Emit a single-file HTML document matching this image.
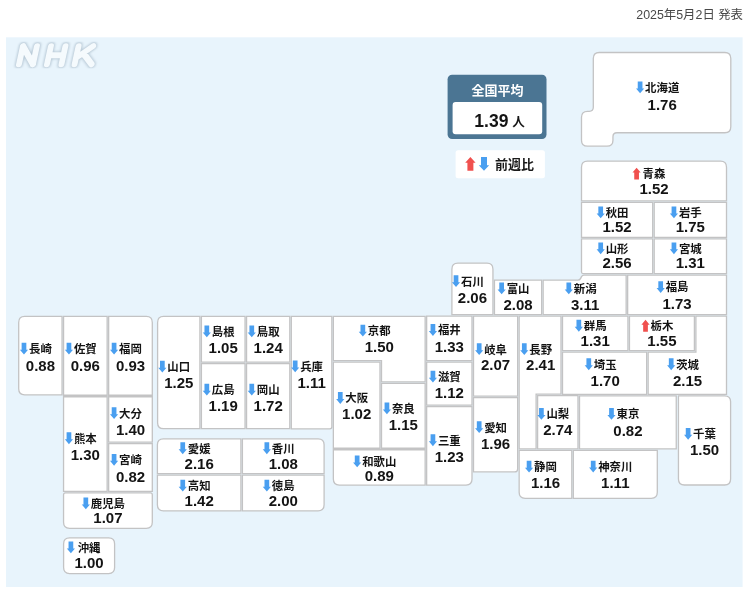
<!DOCTYPE html>
<html lang="ja">
<head>
<meta charset="utf-8">
<title>全国平均 1.39人 - 都道府県別 前週比</title>
<style>
html,body{margin:0;padding:0;background:#fff;}
body{width:750px;height:593px;position:relative;overflow:hidden;font-family:"Liberation Sans",sans-serif;}
#map{position:absolute;left:0;top:0;width:750px;height:593px;display:block;filter:blur(0.35px);}
.pf,.hd{position:absolute;color:transparent;font-size:11px;line-height:14px;text-align:center;white-space:nowrap;overflow:hidden;}
.pf span{display:block;font-weight:bold;}
.pf b{display:block;font-size:14px;line-height:15px;}
</style>
</head>
<body>
<svg id="map" width="750" height="593" viewBox="0 0 750 593">
<defs>
<filter id="bl" x="-10%" y="-20%" width="120%" height="140%"><feGaussianBlur stdDeviation="0.85"/></filter>
</defs>
<rect x="6" y="37.3" width="736.6" height="549.7" fill="#e8f4fc"/>
<g transform="translate(19.0 64.3) skewX(-12.2)" fill="none" stroke-linecap="round" stroke-linejoin="round"><path d="M0.0 0V-18.2M0.0 -18.2L14.0 0M14.0 0V-18.2M28.0 0V-18.2M42.5 0V-18.2M28.0 -9.1H42.5M55.6 0V-18.2M56.6 -7.0L70.2 -18.2M61.9 -11.2L72.6 0" stroke="#a6b8c7" stroke-opacity=".72" stroke-width="7.9" filter="url(#bl)"/><path d="M0.0 0V-18.2M0.0 -18.2L14.0 0M14.0 0V-18.2M28.0 0V-18.2M42.5 0V-18.2M28.0 -9.1H42.5M55.6 0V-18.2M56.6 -7.0L70.2 -18.2M61.9 -11.2L72.6 0" stroke="#f5fafd" stroke-width="5.9"/></g>
<text x="743" y="18.8" text-anchor="end" font-size="12.4" fill="#484848" font-family="'Liberation Sans','Noto Sans CJK JP',sans-serif">2025年5月2日 発表</text>
<g fill="#fff" stroke="#c3c3c4" stroke-width="1.3">
<path d="M593.30 58.50Q593.30 52.50 599.30 52.50L724.80 52.50Q730.80 52.50 730.80 58.50L730.80 126.75Q730.80 132.75 724.80 132.75L616.95 132.75Q612.95 132.75 612.95 136.75L612.95 140.15Q612.95 146.15 606.95 146.15L587.50 146.15Q581.50 146.15 581.50 140.15L581.50 117.30Q581.50 111.30 587.50 111.30L589.30 111.30Q593.30 111.30 593.30 107.30Z"/>
<path d="M581.50 167.15Q581.50 161.15 587.50 161.15L720.50 161.15Q726.50 161.15 726.50 167.15L726.50 200.80L581.50 200.80Z"/>
<path d="M581.50 202.30L652.70 202.30L652.70 237.45L581.50 237.45Z"/>
<path d="M654.20 202.30L726.50 202.30L726.50 237.45L654.20 237.45Z"/>
<path d="M581.50 238.95L652.70 238.95L652.70 273.55L583.00 273.55Q581.50 273.55 581.50 272.05Z"/>
<path d="M654.20 238.95L726.50 238.95L726.50 273.55L654.20 273.55Z"/>
<path d="M627.65 275.05L726.50 275.05L726.50 314.65L627.65 314.65Z"/>
<path d="M562.50 316.15L627.95 316.15L627.95 350.65L562.50 350.65Z"/>
<path d="M629.45 316.15L694.40 316.15L694.40 350.65L629.45 350.65Z"/>
<path d="M695.90 316.15L726.50 316.15L726.50 394.30L648.15 394.30L648.15 352.15L695.90 352.15Z"/>
<path d="M562.50 352.15L646.65 352.15L646.65 394.30L562.50 394.30Z"/>
<path d="M579.50 395.80L676.25 395.80L676.25 448.85L579.50 448.85Z"/>
<path d="M678.45 395.80L724.60 395.80Q730.60 395.80 730.60 401.80L730.60 479.00Q730.60 485.00 724.60 485.00L684.45 485.00Q678.45 485.00 678.45 479.00Z"/>
<path d="M573.30 450.35L657.30 450.35L657.30 492.30Q657.30 498.30 651.30 498.30L573.30 498.30Z"/>
<path d="M543.15 280.20L577.80 280.20Q579.80 280.20 580.64 278.39L581.36 276.86Q582.20 275.05 584.20 275.05L626.15 275.05L626.15 314.65L543.15 314.65Z"/>
<path d="M494.45 280.20L541.65 280.20L541.65 314.65L494.45 314.65Z"/>
<path d="M451.90 269.20Q451.90 263.20 457.90 263.20L486.95 263.20Q492.95 263.20 492.95 269.20L492.95 314.65L451.90 314.65Z"/>
<path d="M426.65 316.15L472.00 316.15L472.00 360.65L426.65 360.65Z"/>
<path d="M473.50 316.15L517.65 316.15L517.65 396.05L473.50 396.05Z"/>
<path d="M519.15 316.15L561.00 316.15L561.00 394.20L536.10 394.20L536.10 448.95L519.15 448.95Z"/>
<path d="M537.60 395.70L578.00 395.70L578.00 448.95L537.60 448.95Z"/>
<path d="M519.15 450.45L571.80 450.45L571.80 498.30L525.15 498.30Q519.15 498.30 519.15 492.30Z"/>
<path d="M473.50 397.55L517.65 397.55L517.65 468.90Q517.65 471.90 514.65 471.90L473.50 471.90Z"/>
<path d="M333.35 316.40L425.15 316.40L425.15 381.85L381.50 381.85L381.50 360.55L333.35 360.55Z"/>
<path d="M333.35 362.05L380.00 362.05L380.00 448.25L333.35 448.25Z"/>
<path d="M381.50 383.35L425.15 383.35L425.15 448.25L381.50 448.25Z"/>
<path d="M333.35 449.75L425.15 449.75L425.15 485.10L339.35 485.10Q333.35 485.10 333.35 479.10Z"/>
<path d="M426.65 406.55L472.00 406.55L472.00 479.10Q472.00 485.10 466.00 485.10L426.65 485.10Z"/>
<path d="M426.65 362.15L472.00 362.15L472.00 405.05L426.65 405.05Z"/>
<path d="M291.30 316.40L331.85 316.40L331.85 426.85Q331.85 428.85 329.85 428.85L291.30 428.85Z"/>
<path d="M157.60 322.40Q157.60 316.40 163.60 316.40L199.90 316.40L199.90 428.70L163.60 428.70Q157.60 428.70 157.60 422.70Z"/>
<path d="M201.40 316.40L245.05 316.40L245.05 362.05L201.40 362.05Z"/>
<path d="M246.55 316.40L289.80 316.40L289.80 362.05L246.55 362.05Z"/>
<path d="M201.40 363.55L245.05 363.55L245.05 428.70L201.40 428.70Z"/>
<path d="M246.55 363.55L289.80 363.55L289.80 428.70L246.55 428.70Z"/>
<path d="M157.40 444.80Q157.40 438.80 163.40 438.80L240.90 438.80L240.90 473.65L157.40 473.65Z"/>
<path d="M242.40 438.80L318.10 438.80Q324.10 438.80 324.10 444.80L324.10 473.65L242.40 473.65Z"/>
<path d="M157.40 475.15L240.90 475.15L240.90 510.80L163.40 510.80Q157.40 510.80 157.40 504.80Z"/>
<path d="M242.40 475.15L324.10 475.15L324.10 504.80Q324.10 510.80 318.10 510.80L242.40 510.80Z"/>
<path d="M18.70 322.40Q18.70 316.40 24.70 316.40L62.05 316.40L62.05 394.80L24.70 394.80Q18.70 394.80 18.70 388.80Z"/>
<path d="M63.55 316.40L107.15 316.40L107.15 395.25L63.55 395.25Z"/>
<path d="M108.65 316.40L146.30 316.40Q152.30 316.40 152.30 322.40L152.30 395.25L108.65 395.25Z"/>
<path d="M63.55 396.75L107.15 396.75L107.15 491.30L63.55 491.30Z"/>
<path d="M108.65 396.75L152.30 396.75L152.30 442.10L108.65 442.10Z"/>
<path d="M108.65 443.60L152.30 443.60L152.30 491.30L108.65 491.30Z"/>
<path d="M63.55 494.80Q63.55 492.80 65.55 492.80L150.30 492.80Q152.30 492.80 152.30 494.80L152.30 522.30Q152.30 528.30 146.30 528.30L69.55 528.30Q63.55 528.30 63.55 522.30Z"/>
<path d="M63.60 543.90Q63.60 537.90 69.60 537.90L108.60 537.90Q114.60 537.90 114.60 543.90L114.60 567.60Q114.60 573.60 108.60 573.60L69.60 573.60Q63.60 573.60 63.60 567.60Z"/>
</g>
<rect x="447.6" y="74.8" width="98.9" height="64.2" rx="4.5" fill="#4b7593"/>
<rect x="452.6" y="102.0" width="89.6" height="32.2" rx="3" fill="#fff"/>
<text x="471.6" y="95.4" font-size="13" font-weight="bold" fill="#fff" font-family="'Liberation Sans','Noto Sans CJK JP',sans-serif">全国平均</text>
<text x="491.4" y="126.8" text-anchor="middle" font-size="17.5" font-weight="bold" fill="#141414" font-family="'Liberation Sans','Noto Sans CJK JP',sans-serif">1.39</text>
<text x="512.2" y="126.3" font-size="12.6" font-weight="bold" fill="#161616" font-family="'Liberation Sans','Noto Sans CJK JP',sans-serif">人</text>
<rect x="455.6" y="150.2" width="89.3" height="28.1" rx="2.5" fill="#fff"/>
<path d="M0 -5.5L4 -1.0H2.3V5.5H-2.3V-1.0H-4Z" fill="#f0504e" transform="translate(470.40 163.90) scale(1.300 1.236)"/>
<path d="M0 -5.5L4 -1.0H2.3V5.5H-2.3V-1.0H-4Z" fill="#4a9ff0" transform="translate(484.00 163.90) scale(1.300 -1.236)"/>
<text x="495" y="168.5" font-size="13" font-weight="bold" fill="#1a1a1a" font-family="'Liberation Sans','Noto Sans CJK JP',sans-serif">前週比</text>
<g fill="#141414" font-size="11.4" font-weight="bold" font-family="'Liberation Sans','Noto Sans CJK JP',sans-serif">
<text x="645.1" y="91.8">北海道</text>
<text x="642.6" y="177.9">青森</text>
<text x="605.7" y="216.8">秋田</text>
<text x="678.95" y="216.8">岩手</text>
<text x="605.7" y="252.7">山形</text>
<text x="678.95" y="252.7">宮城</text>
<text x="665.7" y="291.4">福島</text>
<text x="583.8" y="330.1">群馬</text>
<text x="650.5" y="330.1">栃木</text>
<text x="676.2" y="368.6">茨城</text>
<text x="593.8" y="368.6">埼玉</text>
<text x="616.5" y="418.2">東京</text>
<text x="693.1" y="438.2">千葉</text>
<text x="598.2" y="470.9">神奈川</text>
<text x="573.8" y="292.8">新潟</text>
<text x="506.65" y="292.8">富山</text>
<text x="461.0" y="285.6">石川</text>
<text x="437.9" y="334.4">福井</text>
<text x="484.2" y="353.6">岐阜</text>
<text x="529.3" y="353.6">長野</text>
<text x="546.4" y="418.2">山梨</text>
<text x="534.1" y="471.0">静岡</text>
<text x="484.2" y="431.6">愛知</text>
<text x="367.85" y="335.0">京都</text>
<text x="345.3" y="402.4">大阪</text>
<text x="391.9" y="412.8">奈良</text>
<text x="362.15" y="465.7">和歌山</text>
<text x="437.9" y="444.6">三重</text>
<text x="437.9" y="381.0">滋賀</text>
<text x="300.2" y="370.7">兵庫</text>
<text x="167.35" y="371.0">山口</text>
<text x="211.8" y="335.8">島根</text>
<text x="256.8" y="335.8">鳥取</text>
<text x="211.8" y="394.0">広島</text>
<text x="256.8" y="394.0">岡山</text>
<text x="187.75" y="452.6">愛媛</text>
<text x="271.85" y="452.6">香川</text>
<text x="187.75" y="490.0">高知</text>
<text x="271.85" y="490.0">徳島</text>
<text x="29.0" y="353.0">長崎</text>
<text x="73.95" y="353.0">佐賀</text>
<text x="119.1" y="353.0">福岡</text>
<text x="73.95" y="442.6">熊本</text>
<text x="119.1" y="417.6">大分</text>
<text x="119.1" y="464.2">宮崎</text>
<text x="90.8" y="507.7">鹿児島</text>
<text x="77.7" y="551.8">沖縄</text>
</g>
<g fill="#141414" font-size="15" font-weight="bold" text-anchor="middle" font-family="'Liberation Sans',sans-serif">
<text x="662.2" y="109.55">1.76</text>
<text x="654.0" y="193.6">1.52</text>
<text x="617.1" y="231.55">1.52</text>
<text x="690.35" y="231.55">1.75</text>
<text x="617.1" y="268.15">2.56</text>
<text x="690.35" y="268.15">1.31</text>
<text x="677.1" y="308.9">1.73</text>
<text x="595.2" y="345.65">1.31</text>
<text x="661.9" y="345.65">1.55</text>
<text x="687.6" y="386.2">2.15</text>
<text x="605.2" y="386.2">1.70</text>
<text x="627.9" y="435.55">0.82</text>
<text x="704.5" y="455.45">1.50</text>
<text x="615.3" y="488.4">1.11</text>
<text x="585.2" y="309.75">3.11</text>
<text x="518.05" y="309.6">2.08</text>
<text x="472.4" y="303.25">2.06</text>
<text x="449.3" y="351.75">1.33</text>
<text x="495.6" y="369.85">2.07</text>
<text x="540.7" y="369.85">2.41</text>
<text x="557.8" y="435.45">2.74</text>
<text x="545.5" y="488.4">1.16</text>
<text x="495.6" y="449.1">1.96</text>
<text x="379.25" y="352.05">1.50</text>
<text x="356.7" y="419.45">1.02</text>
<text x="403.3" y="430.15">1.15</text>
<text x="379.25" y="480.55">0.89</text>
<text x="449.3" y="461.8">1.23</text>
<text x="449.3" y="397.85">1.12</text>
<text x="311.6" y="388.05">1.11</text>
<text x="178.75" y="388.45">1.25</text>
<text x="223.2" y="353.27">1.05</text>
<text x="268.2" y="353.27">1.24</text>
<text x="223.2" y="411.05">1.19</text>
<text x="268.2" y="411.05">1.72</text>
<text x="199.15" y="468.85">2.16</text>
<text x="283.25" y="468.85">1.08</text>
<text x="199.15" y="505.65">1.42</text>
<text x="283.25" y="505.65">2.00</text>
<text x="40.4" y="370.65">0.88</text>
<text x="85.35" y="370.65">0.96</text>
<text x="130.5" y="370.65">0.93</text>
<text x="85.35" y="460.25">1.30</text>
<text x="130.5" y="434.85">1.40</text>
<text x="130.5" y="482.25">0.82</text>
<text x="107.9" y="523.25">1.07</text>
<text x="89.1" y="567.7">1.00</text>
</g>
<path d="M0 -5.5L4 -1.0H2.3V5.5H-2.3V-1.0H-4Z" fill="#4a9ff0" transform="translate(640.10 87.40) scale(1.025 -1.073)"/>
<path d="M0 -5.5L4 -1.0H2.3V5.5H-2.3V-1.0H-4Z" fill="#f0504e" transform="translate(636.60 173.55) scale(1.025 1.073)"/>
<path d="M0 -5.5L4 -1.0H2.3V5.5H-2.3V-1.0H-4Z" fill="#4a9ff0" transform="translate(600.70 212.40) scale(1.025 -1.073)"/>
<path d="M0 -5.5L4 -1.0H2.3V5.5H-2.3V-1.0H-4Z" fill="#4a9ff0" transform="translate(673.95 212.40) scale(1.025 -1.073)"/>
<path d="M0 -5.5L4 -1.0H2.3V5.5H-2.3V-1.0H-4Z" fill="#4a9ff0" transform="translate(600.70 248.30) scale(1.025 -1.073)"/>
<path d="M0 -5.5L4 -1.0H2.3V5.5H-2.3V-1.0H-4Z" fill="#4a9ff0" transform="translate(673.95 248.30) scale(1.025 -1.073)"/>
<path d="M0 -5.5L4 -1.0H2.3V5.5H-2.3V-1.0H-4Z" fill="#4a9ff0" transform="translate(660.68 287.05) scale(1.025 -1.073)"/>
<path d="M0 -5.5L4 -1.0H2.3V5.5H-2.3V-1.0H-4Z" fill="#4a9ff0" transform="translate(578.83 325.75) scale(1.025 -1.073)"/>
<path d="M0 -5.5L4 -1.0H2.3V5.5H-2.3V-1.0H-4Z" fill="#f0504e" transform="translate(645.52 325.75) scale(1.025 1.073)"/>
<path d="M0 -5.5L4 -1.0H2.3V5.5H-2.3V-1.0H-4Z" fill="#4a9ff0" transform="translate(671.20 364.25) scale(1.025 -1.073)"/>
<path d="M0 -5.5L4 -1.0H2.3V5.5H-2.3V-1.0H-4Z" fill="#4a9ff0" transform="translate(588.78 364.25) scale(1.025 -1.073)"/>
<path d="M0 -5.5L4 -1.0H2.3V5.5H-2.3V-1.0H-4Z" fill="#4a9ff0" transform="translate(611.48 413.85) scale(1.025 -1.073)"/>
<path d="M0 -5.5L4 -1.0H2.3V5.5H-2.3V-1.0H-4Z" fill="#4a9ff0" transform="translate(688.13 433.80) scale(1.025 -1.073)"/>
<path d="M0 -5.5L4 -1.0H2.3V5.5H-2.3V-1.0H-4Z" fill="#4a9ff0" transform="translate(593.20 466.53) scale(1.025 -1.073)"/>
<path d="M0 -5.5L4 -1.0H2.3V5.5H-2.3V-1.0H-4Z" fill="#4a9ff0" transform="translate(568.80 288.40) scale(1.025 -1.073)"/>
<path d="M0 -5.5L4 -1.0H2.3V5.5H-2.3V-1.0H-4Z" fill="#4a9ff0" transform="translate(501.65 288.40) scale(1.025 -1.073)"/>
<path d="M0 -5.5L4 -1.0H2.3V5.5H-2.3V-1.0H-4Z" fill="#4a9ff0" transform="translate(456.02 281.20) scale(1.025 -1.073)"/>
<path d="M0 -5.5L4 -1.0H2.3V5.5H-2.3V-1.0H-4Z" fill="#4a9ff0" transform="translate(432.93 330.00) scale(1.025 -1.073)"/>
<path d="M0 -5.5L4 -1.0H2.3V5.5H-2.3V-1.0H-4Z" fill="#4a9ff0" transform="translate(479.18 349.20) scale(1.025 -1.073)"/>
<path d="M0 -5.5L4 -1.0H2.3V5.5H-2.3V-1.0H-4Z" fill="#4a9ff0" transform="translate(524.30 349.20) scale(1.025 -1.073)"/>
<path d="M0 -5.5L4 -1.0H2.3V5.5H-2.3V-1.0H-4Z" fill="#4a9ff0" transform="translate(541.40 413.85) scale(1.025 -1.073)"/>
<path d="M0 -5.5L4 -1.0H2.3V5.5H-2.3V-1.0H-4Z" fill="#4a9ff0" transform="translate(529.07 466.57) scale(1.025 -1.073)"/>
<path d="M0 -5.5L4 -1.0H2.3V5.5H-2.3V-1.0H-4Z" fill="#4a9ff0" transform="translate(479.18 427.20) scale(1.025 -1.073)"/>
<path d="M0 -5.5L4 -1.0H2.3V5.5H-2.3V-1.0H-4Z" fill="#4a9ff0" transform="translate(362.85 330.60) scale(1.025 -1.073)"/>
<path d="M0 -5.5L4 -1.0H2.3V5.5H-2.3V-1.0H-4Z" fill="#4a9ff0" transform="translate(340.28 398.00) scale(1.025 -1.073)"/>
<path d="M0 -5.5L4 -1.0H2.3V5.5H-2.3V-1.0H-4Z" fill="#4a9ff0" transform="translate(386.93 408.45) scale(1.025 -1.073)"/>
<path d="M0 -5.5L4 -1.0H2.3V5.5H-2.3V-1.0H-4Z" fill="#4a9ff0" transform="translate(357.15 461.35) scale(1.025 -1.073)"/>
<path d="M0 -5.5L4 -1.0H2.3V5.5H-2.3V-1.0H-4Z" fill="#4a9ff0" transform="translate(432.93 440.25) scale(1.025 -1.073)"/>
<path d="M0 -5.5L4 -1.0H2.3V5.5H-2.3V-1.0H-4Z" fill="#4a9ff0" transform="translate(432.93 376.60) scale(1.025 -1.073)"/>
<path d="M0 -5.5L4 -1.0H2.3V5.5H-2.3V-1.0H-4Z" fill="#4a9ff0" transform="translate(295.18 366.35) scale(1.025 -1.073)"/>
<path d="M0 -5.5L4 -1.0H2.3V5.5H-2.3V-1.0H-4Z" fill="#4a9ff0" transform="translate(162.35 366.60) scale(1.025 -1.073)"/>
<path d="M0 -5.5L4 -1.0H2.3V5.5H-2.3V-1.0H-4Z" fill="#4a9ff0" transform="translate(206.83 331.43) scale(1.025 -1.073)"/>
<path d="M0 -5.5L4 -1.0H2.3V5.5H-2.3V-1.0H-4Z" fill="#4a9ff0" transform="translate(251.78 331.43) scale(1.025 -1.073)"/>
<path d="M0 -5.5L4 -1.0H2.3V5.5H-2.3V-1.0H-4Z" fill="#4a9ff0" transform="translate(206.83 389.60) scale(1.025 -1.073)"/>
<path d="M0 -5.5L4 -1.0H2.3V5.5H-2.3V-1.0H-4Z" fill="#4a9ff0" transform="translate(251.78 389.60) scale(1.025 -1.073)"/>
<path d="M0 -5.5L4 -1.0H2.3V5.5H-2.3V-1.0H-4Z" fill="#4a9ff0" transform="translate(182.75 448.25) scale(1.025 -1.073)"/>
<path d="M0 -5.5L4 -1.0H2.3V5.5H-2.3V-1.0H-4Z" fill="#4a9ff0" transform="translate(266.85 448.25) scale(1.025 -1.073)"/>
<path d="M0 -5.5L4 -1.0H2.3V5.5H-2.3V-1.0H-4Z" fill="#4a9ff0" transform="translate(182.75 485.60) scale(1.025 -1.073)"/>
<path d="M0 -5.5L4 -1.0H2.3V5.5H-2.3V-1.0H-4Z" fill="#4a9ff0" transform="translate(266.85 485.60) scale(1.025 -1.073)"/>
<path d="M0 -5.5L4 -1.0H2.3V5.5H-2.3V-1.0H-4Z" fill="#4a9ff0" transform="translate(23.98 348.60) scale(1.025 -1.073)"/>
<path d="M0 -5.5L4 -1.0H2.3V5.5H-2.3V-1.0H-4Z" fill="#4a9ff0" transform="translate(68.95 348.60) scale(1.025 -1.073)"/>
<path d="M0 -5.5L4 -1.0H2.3V5.5H-2.3V-1.0H-4Z" fill="#4a9ff0" transform="translate(114.08 348.60) scale(1.025 -1.073)"/>
<path d="M0 -5.5L4 -1.0H2.3V5.5H-2.3V-1.0H-4Z" fill="#4a9ff0" transform="translate(68.95 438.25) scale(1.025 -1.073)"/>
<path d="M0 -5.5L4 -1.0H2.3V5.5H-2.3V-1.0H-4Z" fill="#4a9ff0" transform="translate(114.08 413.20) scale(1.025 -1.073)"/>
<path d="M0 -5.5L4 -1.0H2.3V5.5H-2.3V-1.0H-4Z" fill="#4a9ff0" transform="translate(114.08 459.80) scale(1.025 -1.073)"/>
<path d="M0 -5.5L4 -1.0H2.3V5.5H-2.3V-1.0H-4Z" fill="#4a9ff0" transform="translate(85.83 503.35) scale(1.025 -1.073)"/>
<path d="M0 -5.5L4 -1.0H2.3V5.5H-2.3V-1.0H-4Z" fill="#4a9ff0" transform="translate(70.90 547.40) scale(1.025 -1.073)"/>
</svg>
<div class="hd" style="left:630px;top:6px;width:114px;height:16px">2025年5月2日 発表</div>
<div class="hd" style="left:14px;top:42px;width:84px;height:26px">NHK</div>
<div class="hd" style="left:448px;top:75px;width:98px;height:64px"><span>全国平均</span> <b>1.39人</b></div>
<div class="hd" style="left:456px;top:150px;width:89px;height:28px">↑↓ 前週比</div>
<div class="pf" style="left:581px;top:80px;width:151px;height:30px"><span>↓北海道</span><b>1.76</b></div>
<div class="pf" style="left:581px;top:167px;width:146px;height:30px"><span>↑青森</span><b>1.52</b></div>
<div class="pf" style="left:581px;top:205px;width:73px;height:30px"><span>↓秋田</span><b>1.52</b></div>
<div class="pf" style="left:653px;top:205px;width:74px;height:30px"><span>↓岩手</span><b>1.75</b></div>
<div class="pf" style="left:581px;top:241px;width:73px;height:30px"><span>↓山形</span><b>2.56</b></div>
<div class="pf" style="left:653px;top:241px;width:74px;height:30px"><span>↓宮城</span><b>1.31</b></div>
<div class="pf" style="left:627px;top:280px;width:100px;height:30px"><span>↓福島</span><b>1.73</b></div>
<div class="pf" style="left:562px;top:319px;width:67px;height:30px"><span>↓群馬</span><b>1.31</b></div>
<div class="pf" style="left:629px;top:319px;width:66px;height:30px"><span>↑栃木</span><b>1.55</b></div>
<div class="pf" style="left:647px;top:357px;width:80px;height:30px"><span>↓茨城</span><b>2.15</b></div>
<div class="pf" style="left:562px;top:357px;width:86px;height:30px"><span>↓埼玉</span><b>1.70</b></div>
<div class="pf" style="left:579px;top:407px;width:98px;height:30px"><span>↓東京</span><b>0.82</b></div>
<div class="pf" style="left:678px;top:427px;width:54px;height:30px"><span>↓千葉</span><b>1.50</b></div>
<div class="pf" style="left:573px;top:460px;width:86px;height:30px"><span>↓神奈川</span><b>1.11</b></div>
<div class="pf" style="left:543px;top:281px;width:83px;height:30px"><span>↓新潟</span><b>3.11</b></div>
<div class="pf" style="left:494px;top:281px;width:49px;height:30px"><span>↓富山</span><b>2.08</b></div>
<div class="pf" style="left:451px;top:274px;width:43px;height:30px"><span>↓石川</span><b>2.06</b></div>
<div class="pf" style="left:426px;top:323px;width:47px;height:30px"><span>↓福井</span><b>1.33</b></div>
<div class="pf" style="left:473px;top:342px;width:46px;height:30px"><span>↓岐阜</span><b>2.07</b></div>
<div class="pf" style="left:518px;top:342px;width:43px;height:30px"><span>↓長野</span><b>2.41</b></div>
<div class="pf" style="left:537px;top:407px;width:42px;height:30px"><span>↓山梨</span><b>2.74</b></div>
<div class="pf" style="left:518px;top:460px;width:54px;height:30px"><span>↓静岡</span><b>1.16</b></div>
<div class="pf" style="left:473px;top:420px;width:46px;height:30px"><span>↓愛知</span><b>1.96</b></div>
<div class="pf" style="left:333px;top:324px;width:93px;height:30px"><span>↓京都</span><b>1.50</b></div>
<div class="pf" style="left:333px;top:391px;width:48px;height:30px"><span>↓大阪</span><b>1.02</b></div>
<div class="pf" style="left:381px;top:401px;width:45px;height:30px"><span>↓奈良</span><b>1.15</b></div>
<div class="pf" style="left:333px;top:454px;width:93px;height:30px"><span>↓和歌山</span><b>0.89</b></div>
<div class="pf" style="left:426px;top:433px;width:47px;height:30px"><span>↓三重</span><b>1.23</b></div>
<div class="pf" style="left:426px;top:370px;width:47px;height:30px"><span>↓滋賀</span><b>1.12</b></div>
<div class="pf" style="left:291px;top:359px;width:42px;height:30px"><span>↓兵庫</span><b>1.11</b></div>
<div class="pf" style="left:157px;top:360px;width:44px;height:30px"><span>↓山口</span><b>1.25</b></div>
<div class="pf" style="left:201px;top:324px;width:45px;height:30px"><span>↓島根</span><b>1.05</b></div>
<div class="pf" style="left:246px;top:324px;width:45px;height:30px"><span>↓鳥取</span><b>1.24</b></div>
<div class="pf" style="left:201px;top:383px;width:45px;height:30px"><span>↓広島</span><b>1.19</b></div>
<div class="pf" style="left:246px;top:383px;width:45px;height:30px"><span>↓岡山</span><b>1.72</b></div>
<div class="pf" style="left:157px;top:441px;width:85px;height:30px"><span>↓愛媛</span><b>2.16</b></div>
<div class="pf" style="left:242px;top:441px;width:83px;height:30px"><span>↓香川</span><b>1.08</b></div>
<div class="pf" style="left:157px;top:479px;width:85px;height:30px"><span>↓高知</span><b>1.42</b></div>
<div class="pf" style="left:242px;top:479px;width:83px;height:30px"><span>↓徳島</span><b>2.00</b></div>
<div class="pf" style="left:18px;top:342px;width:45px;height:30px"><span>↓長崎</span><b>0.88</b></div>
<div class="pf" style="left:63px;top:342px;width:45px;height:30px"><span>↓佐賀</span><b>0.96</b></div>
<div class="pf" style="left:108px;top:342px;width:45px;height:30px"><span>↓福岡</span><b>0.93</b></div>
<div class="pf" style="left:63px;top:431px;width:45px;height:30px"><span>↓熊本</span><b>1.30</b></div>
<div class="pf" style="left:108px;top:406px;width:45px;height:30px"><span>↓大分</span><b>1.40</b></div>
<div class="pf" style="left:108px;top:453px;width:45px;height:30px"><span>↓宮崎</span><b>0.82</b></div>
<div class="pf" style="left:63px;top:496px;width:90px;height:30px"><span>↓鹿児島</span><b>1.07</b></div>
<div class="pf" style="left:63px;top:540px;width:52px;height:30px"><span>↓沖縄</span><b>1.00</b></div>
</body>
</html>
